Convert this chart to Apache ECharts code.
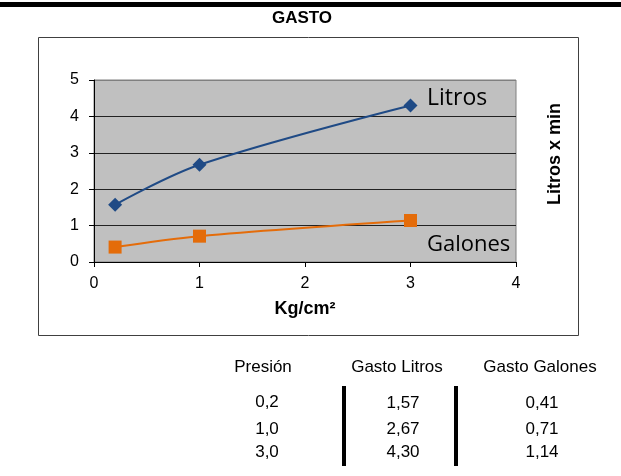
<!DOCTYPE html>
<html>
<head>
<meta charset="utf-8">
<script src="https://cdn.jsdelivr.net/npm/echarts@6/dist/echarts.min.js"></script>
<style>
html,body{margin:0;padding:0;background:#fff;}
#c{width:621px;height:476px;}
</style>
</head>
<body>
<div id="c"></div>
<script>
var presion = [0.2, 1.0, 3.0];
var litros = [1.57, 2.67, 4.30];
var galones = [0.41, 0.71, 1.14];
var xTicks = [0, 1, 2, 3, 4];
var yTicks = [0, 1, 2, 3, 4, 5];
var headers = ['Presión', 'Gasto Litros', 'Gasto Galones'];

var FONT = 'Liberation Sans, Arial, sans-serif';

function fmt(v, d) { return v.toFixed(d).replace('.', ','); }

var chart = echarts.init(document.getElementById('c'), null, {renderer: 'canvas'});

var graphics = [
  {type: 'rect', shape: {x: 0, y: 2, width: 621, height: 5}, style: {fill: '#000'}, silent: true},
  {type: 'rect', shape: {x: 38.5, y: 37.5, width: 540, height: 298}, style: {fill: 'none', stroke: '#404040', lineWidth: 1}, silent: true, z: -1},
  {type: 'text', x: 302, y: 18, style: {text: 'GASTO', font: 'bold 17px ' + FONT, fill: '#000', textAlign: 'center', textVerticalAlign: 'middle'}},
  {type: 'text', x: 555, y: 154, rotation: Math.PI / 2, style: {text: 'Litros x min', font: 'bold 18px ' + FONT, fill: '#000', textAlign: 'center', textVerticalAlign: 'middle'}},
  {type: 'text', x: 427, y: 98, style: {text: 'Litros', font: '23px "Open Sans", sans-serif', fill: '#000', textAlign: 'left', textVerticalAlign: 'middle'}, z: 10},
  {type: 'text', x: 427, y: 245, style: {text: 'Galones', font: '22px "Open Sans", sans-serif', fill: '#000', textAlign: 'left', textVerticalAlign: 'middle'}, z: 10},
  {type: 'rect', shape: {x: 342, y: 386, width: 4, height: 80}, style: {fill: '#000'}},
  {type: 'rect', shape: {x: 454, y: 386, width: 4, height: 80}, style: {fill: '#000'}}
];

var colX = [[263, 267], [397, 403], [540, 542]];
headers.forEach(function (h, i) {
  graphics.push({type: 'text', x: colX[i][0], y: 367, style: {text: h, font: '17px ' + FONT, fill: '#000', textAlign: 'center', textVerticalAlign: 'middle'}});
});
var rowY = [[402, 403], [429, 429], [452, 452]];
presion.forEach(function (p, r) {
  var vals = [fmt(p, 1), fmt(litros[r], 2), fmt(galones[r], 2)];
  vals.forEach(function (t, c) {
    graphics.push({type: 'text', x: colX[c][1], y: c === 0 ? rowY[r][0] : rowY[r][1], style: {text: t, font: '17px ' + FONT, fill: '#000', textAlign: 'center', textVerticalAlign: 'middle'}});
  });
});

var option = {
  backgroundColor: '#fff',
  animation: false,
  grid: {
    left: 94, right: 105, top: 80, bottom: 214,
    show: true, backgroundColor: '#C0C0C0', borderColor: '#808080', borderWidth: 1,
    outerBoundsMode: 'none', containLabel: false
  },
  xAxis: {
    type: 'value', min: xTicks[0], max: xTicks[xTicks.length - 1], interval: 1,
    name: 'Kg/cm²', nameLocation: 'middle', nameGap: 38,
    nameTextStyle: {fontFamily: FONT, fontSize: 18, fontWeight: 'bold', color: '#000'},
    axisLine: {show: true, onZero: false, lineStyle: {color: '#000', width: 1}},
    axisTick: {show: true, length: 5, lineStyle: {color: '#000'}},
    axisLabel: {fontFamily: FONT, fontSize: 16, color: '#000', margin: 14},
    splitLine: {show: false}
  },
  yAxis: {
    type: 'value', min: yTicks[0], max: yTicks[yTicks.length - 1], interval: 1,
    axisLine: {show: true, lineStyle: {color: '#000', width: 1}},
    axisTick: {show: true, length: 5, lineStyle: {color: '#000'}},
    axisLabel: {fontFamily: FONT, fontSize: 16, color: '#000', margin: 15},
    splitLine: {show: true, lineStyle: {color: ['#222', '#222', '#222', '#222', '#222', '#808080'], width: 1}}
  },
  graphic: graphics,
  series: [
    {
      name: 'Litros', type: 'line', smooth: 0.35,
      data: presion.map(function (p, i) { return [p, litros[i]]; }),
      symbol: 'diamond', symbolSize: 14, showAllSymbol: true,
      lineStyle: {color: '#1F4A85', width: 2},
      itemStyle: {color: '#1F4A85', borderWidth: 0},
      z: 3
    },
    {
      name: 'Galones', type: 'line', smooth: 0.35,
      data: presion.map(function (p, i) { return [p, galones[i]]; }),
      symbol: 'rect', symbolSize: 13, showAllSymbol: true,
      lineStyle: {color: '#E46C0A', width: 2},
      itemStyle: {color: '#E46C0A', borderWidth: 0},
      z: 3
    }
  ]
};
chart.setOption(option);
</script>
</body>
</html>
